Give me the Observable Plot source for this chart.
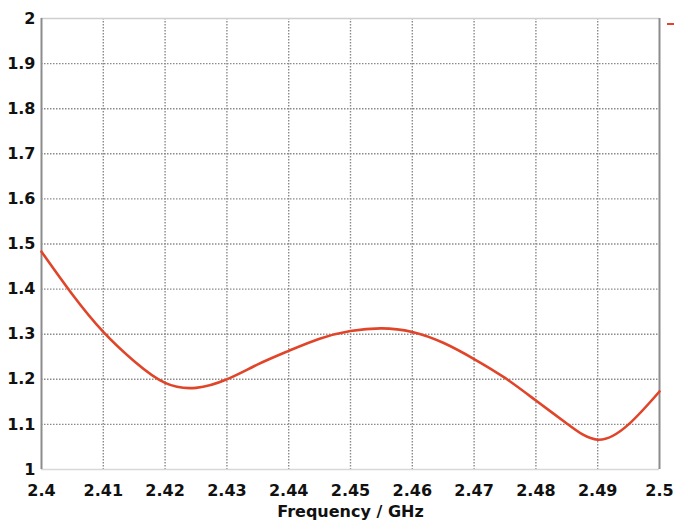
<!DOCTYPE html>
<html>
<head>
<meta charset="utf-8">
<script src="https://cdn.jsdelivr.net/npm/d3@7"></script>
<script src="https://cdn.jsdelivr.net/npm/@observablehq/plot@0.6"></script>
<style>
  html, body { margin: 0; padding: 0; background: #fff; }
  #wrap { position: relative; width: 674px; height: 522px; }
  #legendFrag { position: absolute; left: 667px; top: 23px; width: 7px; height: 2px; background: #e0452a; }
</style>
</head>
<body>
<div id="wrap"><div id="legendFrag"></div></div>
<script>
const freq = [2.400, 2.405, 2.410, 2.415, 2.420, 2.425, 2.430, 2.435, 2.440, 2.445, 2.450, 2.455, 2.460, 2.465, 2.470, 2.475, 2.480, 2.485, 2.490, 2.495, 2.500];
const vswr = [1.483, 1.388, 1.305, 1.240, 1.192, 1.181, 1.200, 1.233, 1.263, 1.290, 1.307, 1.313, 1.305, 1.281, 1.245, 1.203, 1.153, 1.102, 1.066, 1.100, 1.173];
const xTicks = [2.40, 2.41, 2.42, 2.43, 2.44, 2.45, 2.46, 2.47, 2.48, 2.49, 2.50];
const xTickLabels = ["2.4", "2.41", "2.42", "2.43", "2.44", "2.45", "2.46", "2.47", "2.48", "2.49", "2.5"];
const yTicks = [1, 1.1, 1.2, 1.3, 1.4, 1.5, 1.6, 1.7, 1.8, 1.9, 2];
const yTickLabels = ["1", "1.1", "1.2", "1.3", "1.4", "1.5", "1.6", "1.7", "1.8", "1.9", "2"];
const xLabel = "Frequency / GHz";

const data = freq.map((f, i) => ({f, v: vswr[i]}));
const innerX = xTicks.slice(1, -1);
const innerY = yTicks.slice(1, -1);

const chart = Plot.plot({
  width: 674,
  height: 522,
  marginLeft: 41,
  marginRight: 15,
  marginTop: 18,
  marginBottom: 53,
  style: {fontFamily: "'DejaVu Sans', Verdana, sans-serif", fontWeight: "bold", fontSize: "16px", color: "#111", background: "#fff"},
  x: {domain: [2.4, 2.5], ticks: xTicks, tickFormat: (d, i) => xTickLabels[i], tickSize: 0, tickPadding: 2, label: xLabel, labelAnchor: "center", labelArrow: "none", labelOffset: 47},
  y: {domain: [1, 2], ticks: yTicks, tickFormat: (d, i) => yTickLabels[i], tickSize: 0, tickPadding: 6, label: null},
  marks: [
    Plot.gridX(innerX, {stroke: "#8a8a8a", strokeOpacity: 1, strokeWidth: 1.4, strokeDasharray: "1.5,1.5"}),
    Plot.gridY(innerY, {stroke: "#8a8a8a", strokeOpacity: 1, strokeWidth: 1.4, strokeDasharray: "1.5,1.5"}),
    Plot.ruleY([2], {stroke: "#cfcfcf", strokeWidth: 1.5}),
    Plot.ruleY([1], {stroke: "#d8d8d8", strokeWidth: 1.5}),
    Plot.ruleX([2.4], {stroke: "#8c8c8c", strokeWidth: 2}),
    Plot.ruleX([2.5], {stroke: "#8c8c8c", strokeWidth: 2}),
    Plot.line(data, {x: "f", y: "v", curve: "natural", stroke: "#e0452a", strokeWidth: 2.6}),
  ]
});
const sel = d3.select(chart);
sel.selectAll("[aria-label='x-axis tick label'] text, [aria-label='y-axis tick label'] text").style("font-size", "16px").style("font-weight", "bold");
sel.selectAll("[aria-label='x-axis tick label'] text").attr("dy", "0.85em");
sel.selectAll("[aria-label='x-axis label'] text").style("font-size", "16px").style("font-weight", "bold");
document.getElementById("wrap").prepend(chart);
chart.style.position = "absolute";
chart.style.left = "0";
chart.style.top = "0";
</script>
</body>
</html>
